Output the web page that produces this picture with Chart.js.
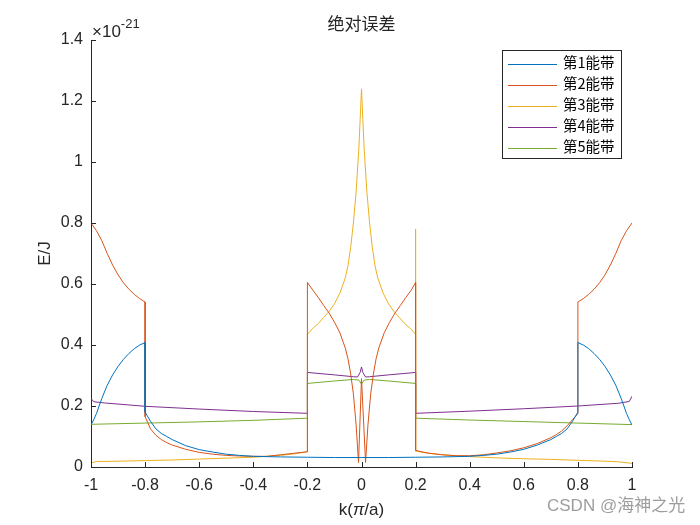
<!DOCTYPE html>
<html>
<head>
<meta charset="utf-8">
<script src="https://cdn.jsdelivr.net/npm/chart.js@4.4.1/dist/chart.umd.min.js"></script>
<style>
  html, body { margin: 0; padding: 0; background: #ffffff; }
  #wrap { width: 700px; height: 525px; }
</style>
</head>
<body>
<div id="wrap"><canvas id="errChart" width="700" height="525"></canvas></div>
<script>
// values are in units of 1e-21 J
const chartTitle = '绝对误差';
const bandLabels = ['第1能带', '第2能带', '第3能带', '第4能带', '第5能带'];
const bandColors = ['#0072BD', '#D95319', '#EDB120', '#7E2F8E', '#77AC30'];
const xTicks = [-1, -0.8, -0.6, -0.4, -0.2, 0, 0.2, 0.4, 0.6, 0.8, 1];
const yTicks = [0, 0.2, 0.4, 0.6, 0.8, 1, 1.2, 1.4];

// band 1
const k1 = [-1, -0.99, -0.98, -0.97, -0.96, -0.94, -0.92, -0.9, -0.88, -0.86, -0.84, -0.82, -0.8,
  -0.8, -0.78, -0.76, -0.74, -0.72, -0.7, -0.65, -0.6, -0.55, -0.5, -0.45, -0.4, -0.3, -0.2, -0.1, 0,
  0.1, 0.2, 0.3, 0.4, 0.45, 0.5, 0.55, 0.6, 0.65, 0.7, 0.72, 0.74, 0.76, 0.78, 0.8,
  0.8, 0.82, 0.84, 0.86, 0.88, 0.9, 0.92, 0.94, 0.96, 0.97, 0.98, 0.99, 1];
const e1 = [0.138, 0.155, 0.175, 0.2, 0.225, 0.268, 0.302, 0.33, 0.353, 0.372, 0.388, 0.4, 0.408,
  0.18, 0.15, 0.125, 0.11, 0.1, 0.09, 0.07, 0.057, 0.049, 0.042, 0.038, 0.035, 0.033, 0.032, 0.031, 0.031,
  0.031, 0.032, 0.033, 0.035, 0.038, 0.042, 0.049, 0.058, 0.072, 0.09, 0.1, 0.11, 0.125, 0.15, 0.18,
  0.408, 0.4, 0.388, 0.372, 0.353, 0.33, 0.302, 0.268, 0.225, 0.2, 0.175, 0.155, 0.138];

// band 2
const k2 = [-1, -0.98, -0.96, -0.94, -0.92, -0.9, -0.88, -0.86, -0.84, -0.82, -0.8,
  -0.8, -0.78, -0.76, -0.74, -0.72, -0.7, -0.65, -0.6, -0.55, -0.5, -0.45, -0.4, -0.35, -0.3, -0.25, -0.2,
  -0.2, -0.18, -0.16, -0.14, -0.12, -0.1, -0.08, -0.06, -0.05, -0.04, -0.03, -0.02, -0.011, 0,
  0.015, 0.024, 0.034, 0.044, 0.054, 0.064, 0.084, 0.104, 0.124, 0.144, 0.164, 0.184, 0.2,
  0.2, 0.22, 0.25, 0.3, 0.35, 0.4, 0.45, 0.5, 0.55, 0.6, 0.65, 0.7, 0.72, 0.74, 0.76, 0.78, 0.8,
  0.8, 0.82, 0.84, 0.86, 0.88, 0.9, 0.92, 0.94, 0.96, 0.98, 1];
const e2 = [0.8, 0.775, 0.742, 0.7, 0.662, 0.63, 0.604, 0.583, 0.566, 0.552, 0.541,
  0.165, 0.125, 0.104, 0.09, 0.08, 0.072, 0.058, 0.048, 0.042, 0.038, 0.036, 0.035, 0.035, 0.04, 0.045, 0.05,
  0.605, 0.58, 0.556, 0.53, 0.505, 0.475, 0.44, 0.39, 0.355, 0.305, 0.24, 0.14, 0.015, 0.29,
  0.015, 0.14, 0.24, 0.305, 0.355, 0.39, 0.44, 0.475, 0.505, 0.53, 0.556, 0.58, 0.605,
  0.055, 0.05, 0.045, 0.04, 0.037, 0.037, 0.04, 0.046, 0.053, 0.063, 0.077, 0.096, 0.106, 0.118, 0.135, 0.155, 0.175,
  0.541, 0.552, 0.566, 0.583, 0.604, 0.63, 0.662, 0.7, 0.742, 0.775, 0.8];

// band 3
const k3 = [-1, -0.98, -0.9, -0.8, -0.7, -0.6, -0.5, -0.4, -0.3, -0.25, -0.2,
  -0.2, -0.18, -0.16, -0.14, -0.12, -0.1, -0.08, -0.06, -0.05, -0.04, -0.03, -0.02, -0.01, -0.005, 0,
  0.005, 0.01, 0.02, 0.03, 0.04, 0.05, 0.06, 0.08, 0.1, 0.12, 0.14, 0.16, 0.18, 0.2,
  0.2, 0.2, 0.25, 0.3, 0.35, 0.4, 0.5, 0.6, 0.7, 0.8, 0.9, 0.95, 1];
const e3 = [0.013, 0.018, 0.019, 0.021, 0.023, 0.026, 0.029, 0.032, 0.038, 0.043, 0.05,
  0.435, 0.455, 0.47, 0.49, 0.51, 0.535, 0.57, 0.62, 0.66, 0.72, 0.8, 0.9, 1.04, 1.14, 1.24,
  1.14, 1.04, 0.9, 0.8, 0.72, 0.66, 0.62, 0.57, 0.535, 0.51, 0.49, 0.47, 0.455, 0.435,
  0.78, 0.052, 0.045, 0.04, 0.037, 0.034, 0.03, 0.027, 0.025, 0.022, 0.019, 0.017, 0.012];

// band 4
const k4 = [-1, -0.99, -0.95, -0.8, -0.6, -0.4, -0.2,
  -0.2, -0.1, -0.03, -0.015, -0.005, 0, 0.005, 0.015, 0.03, 0.1, 0.2,
  0.2, 0.4, 0.6, 0.8, 0.95, 0.99, 1];
const e4 = [0.225, 0.214, 0.21, 0.199, 0.19, 0.182, 0.176,
  0.31, 0.302, 0.296, 0.295, 0.31, 0.328, 0.31, 0.295, 0.296, 0.302, 0.31,
  0.176, 0.183, 0.191, 0.2, 0.209, 0.215, 0.232];

// band 5
const k5 = [-1, -0.8, -0.6, -0.4, -0.2,
  -0.2, -0.1, -0.03, -0.01, 0, 0.01, 0.03, 0.1, 0.2,
  0.2, 0.4, 0.6, 0.8, 1];
const e5 = [0.14, 0.144, 0.148, 0.153, 0.16,
  0.274, 0.282, 0.287, 0.285, 0.272, 0.285, 0.287, 0.282, 0.274,
  0.16, 0.154, 0.149, 0.144, 0.139];

const bandK = [k1, k2, k3, k4, k5];
const bandE = [e1, e2, e3, e4, e5];

const axisColor = '#262626';
const latinFont = '"Liberation Sans", Arial, "Noto Sans CJK SC", sans-serif';
const cjkFont = '"Noto Sans CJK SC", "Liberation Sans", sans-serif';

function toPoints(xs, ys) {
  return xs.map((x, i) => ({ x: x, y: ys[i] }));
}

function formatTick(v) {
  return String(Number(v.toFixed(1)));
}

// MATLAB style: ticks pointing inward, legend box, labels, exponent
const figureDecor = {
  id: 'figureDecor',
  afterDatasetsDraw(chart) {
    const ctx = chart.ctx;
    const area = chart.chartArea;
    const xs = chart.scales.x;
    const ys = chart.scales.y;
    ctx.save();
    ctx.strokeStyle = axisColor;
    ctx.lineWidth = 1;
    ctx.beginPath();
    xTicks.forEach(v => {
      const px = Math.round(xs.getPixelForValue(v)) + 0.5;
      ctx.moveTo(px, area.bottom);
      ctx.lineTo(px, area.bottom - 5);
    });
    yTicks.forEach(v => {
      const py = Math.round(ys.getPixelForValue(v)) + 0.5;
      ctx.moveTo(area.left, py);
      ctx.lineTo(area.left + 5, py);
    });
    ctx.stroke();
    ctx.restore();
  },
  afterDraw(chart) {
    const ctx = chart.ctx;
    const area = chart.chartArea;
    const cx = (area.left + area.right) / 2;
    ctx.save();
    ctx.fillStyle = axisColor;

    // title
    ctx.font = '17px ' + cjkFont;
    ctx.textAlign = 'center';
    ctx.textBaseline = 'middle';
    ctx.fillText(chartTitle, cx, 24);

    // exponent
    ctx.textAlign = 'left';
    ctx.textBaseline = 'alphabetic';
    ctx.font = '17px ' + latinFont;
    ctx.fillText('×10', area.left + 1, 37);
    const w = ctx.measureText('×10').width;
    ctx.font = '13px ' + latinFont;
    ctx.fillText('-21', area.left + 1 + w, 28);

    // x label k(π/a)
    const parts = [['k(', false], ['π', true], ['/a)', false]];
    let total = 0;
    parts.forEach(p => {
      ctx.font = (p[1] ? 'italic ' : '') + '17px ' + latinFont;
      total += ctx.measureText(p[0]).width;
    });
    let x = cx - total / 2;
    ctx.textBaseline = 'middle';
    parts.forEach(p => {
      ctx.font = (p[1] ? 'italic ' : '') + '17px ' + latinFont;
      ctx.fillText(p[0], x, 510);
      x += ctx.measureText(p[0]).width;
    });

    // y label
    ctx.save();
    ctx.translate(45, (area.top + area.bottom) / 2);
    ctx.rotate(-Math.PI / 2);
    ctx.textAlign = 'center';
    ctx.font = '17px ' + latinFont;
    ctx.fillText('E/J', 0, 0);
    ctx.restore();

    // legend
    const box = { left: 502.5, top: 50.5, width: 119, height: 108 };
    ctx.fillStyle = '#ffffff';
    ctx.fillRect(box.left, box.top, box.width, box.height);
    ctx.strokeStyle = axisColor;
    ctx.lineWidth = 1;
    ctx.strokeRect(box.left, box.top, box.width, box.height);
    ctx.font = '14.5px ' + cjkFont;
    ctx.textAlign = 'left';
    ctx.textBaseline = 'middle';
    chart.data.datasets.forEach((ds, i) => {
      const y = 64.5 + i * 21;
      ctx.strokeStyle = ds.borderColor;
      ctx.beginPath();
      ctx.moveTo(508, y);
      ctx.lineTo(557, y);
      ctx.stroke();
      ctx.fillStyle = '#000000';
      ctx.fillText(ds.label, 563, y - 2);
    });

    // watermark
    ctx.fillStyle = 'rgba(140, 140, 140, 0.85)';
    ctx.font = '17px ' + latinFont;
    ctx.fillText('CSDN @海神之光', 547, 506);
    ctx.restore();
  }
};

function renderErrorChart(canvasId) {
  const canvas = document.getElementById(canvasId);
  if (!canvas) {
    console.error(`Canvas with id ${canvasId} not found`);
    return;
  }
  const ctx = canvas.getContext('2d');

  const datasets = bandLabels.map((label, i) => ({
    label: label,
    data: toPoints(bandK[i], bandE[i]),
    borderColor: bandColors[i],
    backgroundColor: bandColors[i],
    borderWidth: 1,
    pointRadius: 0,
    tension: 0,
    fill: false
  }));

  const config = {
    type: 'line',
    data: { datasets: datasets },
    options: {
      responsive: false,
      animation: false,
      devicePixelRatio: 1,
      layout: { padding: { top: 40, right: 68, left: 0, bottom: 0 } },
      plugins: {
        legend: { display: false },
        title: { display: false },
        tooltip: { enabled: false }
      },
      scales: {
        x: {
          type: 'linear',
          min: -1,
          max: 1,
          afterFit: s => { s.height = 58; },
          afterBuildTicks: s => { s.ticks = xTicks.map(v => ({ value: v })); },
          grid: { display: false, drawTicks: false },
          border: { display: true, color: axisColor, width: 1 },
          ticks: {
            autoSkip: false,
            maxRotation: 0,
            padding: 9,
            color: axisColor,
            font: { family: latinFont, size: 16 },
            callback: v => formatTick(v)
          }
        },
        y: {
          type: 'linear',
          min: 0,
          max: 1.4,
          afterFit: s => { s.width = 91; },
          afterBuildTicks: s => { s.ticks = yTicks.map(v => ({ value: v })); },
          grid: { display: false, drawTicks: false },
          border: { display: true, color: axisColor, width: 1 },
          ticks: {
            padding: 8,
            color: axisColor,
            font: { family: latinFont, size: 16 },
            callback: v => formatTick(v)
          }
        }
      }
    },
    plugins: [figureDecor]
  };

  const existing = Chart.getChart(ctx);
  if (existing) existing.destroy();
  return new Chart(ctx, config);
}

renderErrorChart('errChart');
</script>
</body>
</html>
